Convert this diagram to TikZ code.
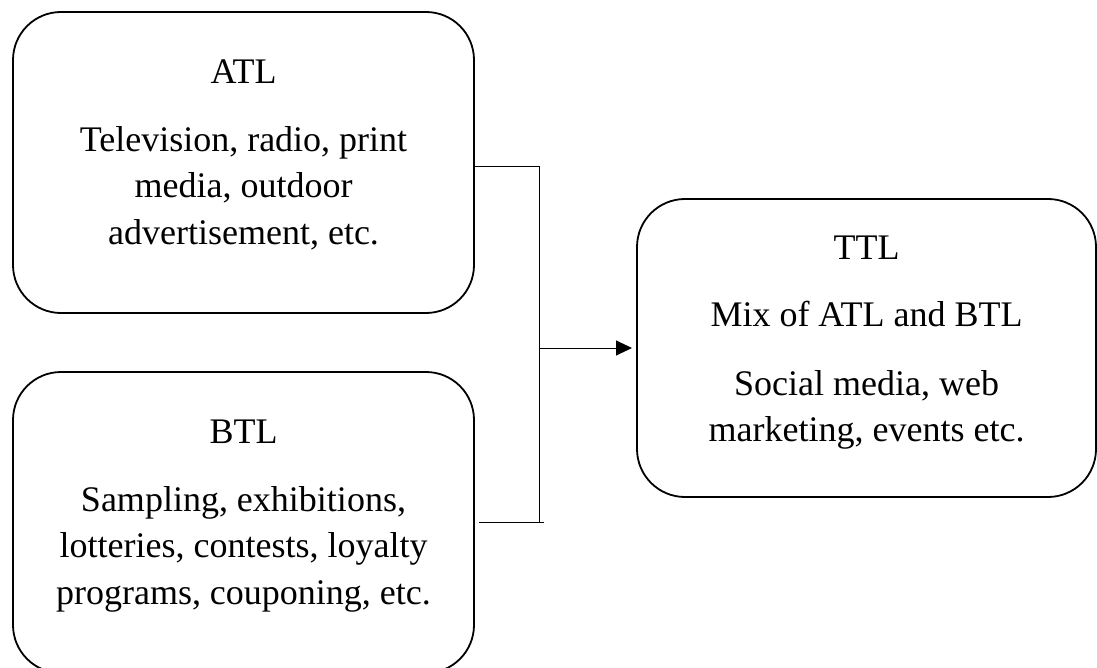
\documentclass[tikz,border=0pt]{standalone}
\usepackage{fontspec}
\setmainfont{Liberation Serif}
\usetikzlibrary{positioning, arrows.meta}

\begin{document}
\begin{tikzpicture}[x=1pt, y=1pt, node distance=59pt,
    channel/.style = {draw, line width=1.8pt, rounded corners=48pt,
        minimum width=461pt, minimum height=301pt, inner sep=0pt, outer sep=0pt},
    blurb/.style = {align=center, inner sep=0pt, outer sep=0pt,
        font=\fontsize{36}{46.5}\selectfont},
    link/.style = {line width=1pt}]
    \useasboundingbox (0,0) rectangle (1097,-668);

    \node[channel] (atl) at (243.5,-162.5) {};
    \node[channel] (btl) [below = of atl] {};
    \node[channel, minimum width=459pt, minimum height=298pt] (ttl)
        at (866.5,-348) {};

    \node[blurb, below = 48pt of atl.north] (atlText)
        {ATL\\[21pt]Television, radio, print\\media, outdoor\\advertisement, etc.};
    \node[blurb, below = 48pt of btl.north] (btlText)
        {BTL\\[21pt]Sampling, exhibitions,\\lotteries, contests, loyalty\\programs, couponing, etc.};
    \node[blurb, below = 36.5pt of ttl.north] (ttlText)
        {TTL\\[21pt]Mix of ATL and BTL\\[22pt]Social media, web\\marketing, events etc.};

    \coordinate (spine) at ([xshift=65pt]atl.east);
    \draw[link] ([yshift=-4.5pt]atl.east) -| ([xshift=65pt]btl.east);
    \draw[link] ([xshift=5pt]btl.east) -- ++(65,0);
    \draw[link, -{Triangle[length=16pt, width=15pt]}]
        (spine |- ttl.west) -- ([xshift=-5pt]ttl.west);
\end{tikzpicture}
\end{document}
